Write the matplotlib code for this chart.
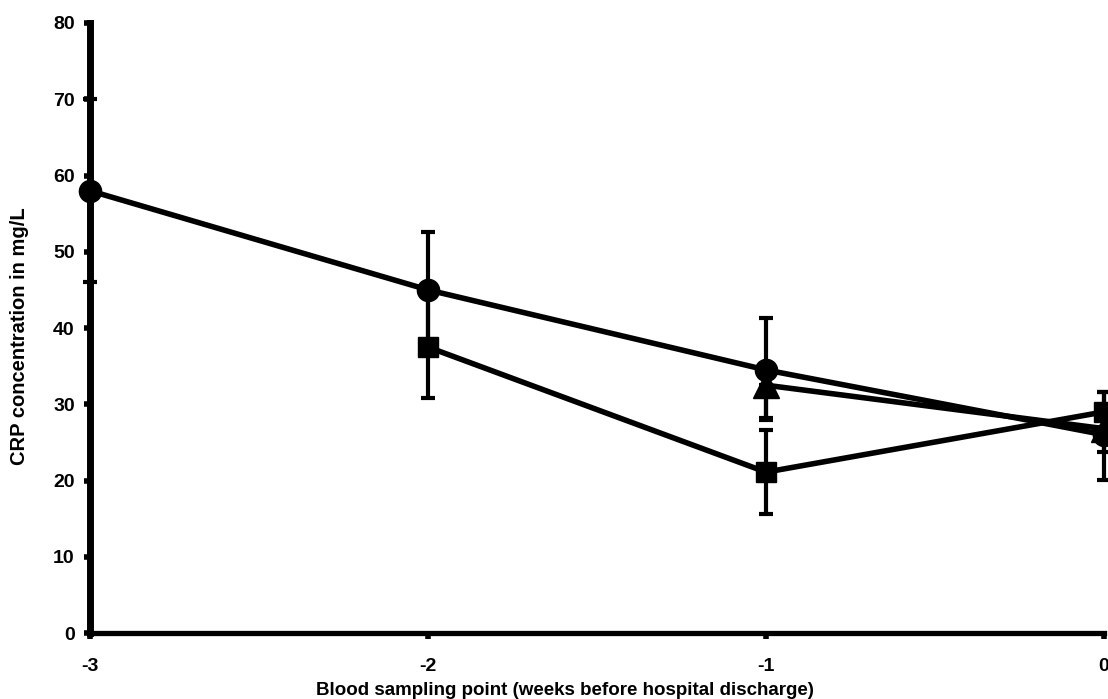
import matplotlib.pyplot as plt

plt.rcParams['font.family'] = ['Liberation Sans', 'DejaVu Sans']
plt.rcParams['font.weight'] = 'bold'

# CRP means (mg/L) per weeks before discharge, with lower / upper error
weeks_circle = [-3, -2, -1, 0]
crp_circle = [58.0, 45.0, 34.5, 26.0]
err_circle_lo = [12.0, 7.6, 6.5, 5.9]
err_circle_hi = [12.0, 7.6, 6.8, 5.6]

weeks_square = [-2, -1, 0]
crp_square = [37.5, 21.1, 29.0]
err_square_lo = [6.7, 5.5, 2.6]
err_square_hi = [6.7, 5.5, 2.6]

weeks_triangle = [-1, 0]
crp_triangle = [32.5, 26.8]
err_triangle_lo = [4.3, 3.0]
err_triangle_hi = [0.0, 0.0]

fig = plt.figure(figsize=(11.08, 6.99), dpi=100)
ax = fig.add_axes([0.0812, 0.0944, 0.9188, 0.8727])

style = dict(color='black', lw=4.0, elinewidth=3.0, capsize=5, capthick=3.0,
             clip_on=False)
ax.errorbar(weeks_triangle, crp_triangle, yerr=[err_triangle_lo, err_triangle_hi],
            marker='^', ms=19, zorder=3, **style)
ax.errorbar(weeks_square, crp_square, yerr=[err_square_lo, err_square_hi],
            marker='s', ms=15, zorder=4, **style)
ax.errorbar(weeks_circle, crp_circle, yerr=[err_circle_lo, err_circle_hi],
            marker='o', ms=16, zorder=5, **style)

ax.set_xlim(-3, 0.0118)
ax.set_ylim(0, 80)
ax.set_xticks([-3, -2, -1, 0])
ax.set_xticklabels(['-3', '-2', '-1', '0'])
ax.set_yticks(range(0, 81, 10))

for side in ['top', 'right']:
    ax.spines[side].set_visible(False)
ax.spines['left'].set_linewidth(5)
ax.spines['bottom'].set_linewidth(3.8)
ax.spines['bottom'].set_bounds(-3, 0)

ax.tick_params(axis='both', direction='out', length=4, width=4, labelsize=14)
ax.tick_params(axis='y', pad=7)
ax.tick_params(axis='x', pad=14)

ax.set_xlabel('Blood sampling point (weeks before hospital discharge)',
              fontsize=13.5, fontweight='bold')
ax.xaxis.set_label_coords(0.467, -0.08)
ax.set_ylabel('CRP concentration in mg/L', fontsize=14.5, fontweight='bold')
ax.yaxis.set_label_coords(-0.060, 0.487)

fig.savefig('out.png', dpi=100)
